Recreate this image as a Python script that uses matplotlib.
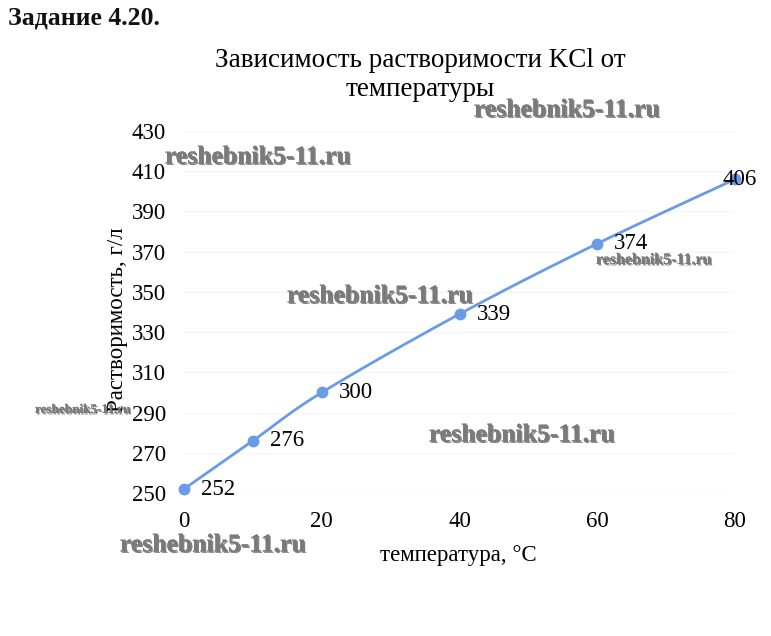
import numpy as np
import matplotlib.pyplot as plt
import matplotlib.patheffects as pe

#------------data----------------------#
temp = [0, 10, 20, 40, 60, 80]
solub = [252, 276, 300, 339, 374, 406]
yticks = list(range(250, 431, 20))
xticks = [0, 20, 40, 60, 80]

wm = "reshebnik5-11.ru"

plt.rcParams['font.family'] = ['Liberation Serif', 'DejaVu Serif']

#------------smooth line (catmull-rom like excel)----------#
def smooth(x, y, n=30):
    x = np.asarray(x, float)
    y = np.asarray(y, float)
    px = np.concatenate([[2*x[0]-x[1]], x, [2*x[-1]-x[-2]]])
    py = np.concatenate([[2*y[0]-y[1]], y, [2*y[-1]-y[-2]]])
    xs, ys = [], []
    t = np.linspace(0, 1, n)
    for i in range(1, len(px)-2):
        for p, out in ((px, xs), (py, ys)):
            p0, p1, p2, p3 = p[i-1], p[i], p[i+1], p[i+2]
            out.extend(0.5*((2*p1) + (-p0+p2)*t + (2*p0-5*p1+4*p2-p3)*t**2
                            + (-p0+3*p1-3*p2+p3)*t**3))
    return xs, ys

fig = plt.figure(figsize=(7.71, 6.36), dpi=100)
ax = fig.add_axes([0.2387, 0.2248, 0.7146, 0.5692])

sx, sy = smooth(temp, solub)
color = '#6a9be6'
ax.plot(sx, sy, color=color, lw=2, zorder=3, clip_on=False)
ax.plot(temp, solub, 'o', color=color, ms=7.5, zorder=4, clip_on=False)

for x, y in zip(temp, solub):
    dx = -12 if x == 80 else 17
    ax.annotate(str(y), (x, y), xytext=(dx, 0), textcoords='offset pixels',
                ha='left', va='center', fontsize=16.5, zorder=5)

ax.set_xlim(0, 80)
ax.set_ylim(250, 430)
ax.set_xticks(xticks)
ax.set_yticks(yticks)
ax.tick_params(length=0, labelsize=16.5, pad=13)
ax.grid(axis='y', color='#f6f6f6', lw=1)
ax.set_axisbelow(True)
for s in ax.spines.values():
    s.set_visible(False)

fig.text(0.545, 0.882, "Зависимость растворимости KCl от\nтемпературы",
         ha='center', va='center', fontsize=19.5, linespacing=1.25)
fig.text(0.594, 0.126, "температура, °C", ha='center', va='center', fontsize=16.5)
fig.text(0.153, 0.497, "Растворимость, г/л", ha='center', va='center',
         rotation=90, fontsize=16.5)
fig.text(0.01, 0.972, "Задание 4.20.", ha='left', va='center',
         fontsize=18.5, fontweight='bold', color='#111111')

#----------------watermarks-----------------#
shadow = [pe.withSimplePatchShadow(offset=(1, -1), shadow_rgbFace='#333333', alpha=0.6),
          pe.Normal()]
big = [(567, 110), (258, 157), (380, 296), (522, 435), (213, 545)]
small = [(654, 260, 11.5), (83, 410, 9.5)]
for x, y in big:
    fig.text(x/771, 1 - y/636, wm, ha='center', va='center', fontsize=18.5,
             fontweight='bold', color='#7a7a7a', path_effects=shadow, zorder=10)
for x, y, fs in small:
    fig.text(x/771, 1 - y/636, wm, ha='center', va='center', fontsize=fs,
             fontweight='bold', color='#7a7a7a', path_effects=shadow, zorder=10)

fig.savefig('out.png', dpi=100)
